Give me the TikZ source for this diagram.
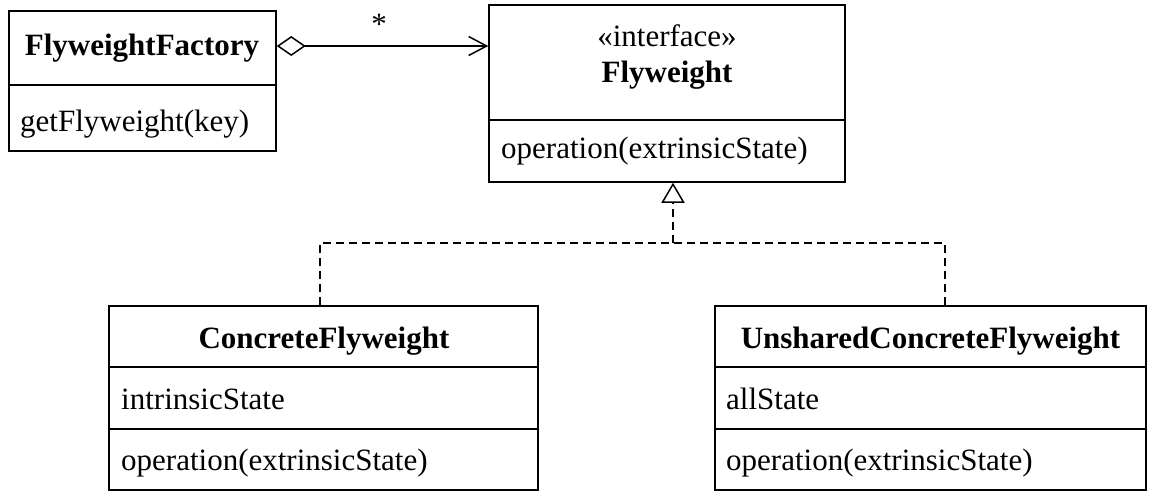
\documentclass[tikz,border=0pt]{standalone}
\usepackage{fontspec}
\setmainfont{Liberation Serif}
\usetikzlibrary{arrows.meta}
\begin{document}
\begin{tikzpicture}[x=1pt,y=-1pt,
  comp/.style={draw, line width=1.5pt, inner sep=0pt, minimum width=#1},
  txt/.style={inner sep=0pt, font=\fontsize{31pt}{37pt}\selectfont},
  ttl/.style={txt, anchor=base, font=\fontsize{31pt}{37pt}\selectfont\bfseries},
  lft/.style={txt, anchor=base west},
  link/.style={line width=1.5pt},
  realize/.style={link, dash pattern=on 8pt off 5pt}
]
\useasboundingbox (0,0) rectangle (1163,501);
% FlyweightFactory
\node[comp=267pt, minimum height=74pt] (factT) at (142.5,48) {};
\node[comp=267pt, minimum height=66pt] (factB) at (142.5,118) {};
\node[ttl] (factN) at (142,55) {FlyweightFactory};
\node[lft] (factM) at (20,131) {getFlyweight(key)};
% Flyweight
\node[comp=356pt, minimum height=115pt] (fwT) at (667,62.5) {};
\node[comp=356pt, minimum height=62pt] (fwB) at (667,151) {};
\node[txt, anchor=base] (fwS) at (667,46) {«interface»};
\node[ttl] (fwN) at (667,82) {Flyweight};
\node[lft] (fwM) at (501,158) {operation(extrinsicState)};
% ConcreteFlyweight
\node[comp=429pt, minimum height=61pt] (cfT) at (323.5,336.5) {};
\node[comp=429pt, minimum height=62pt] (cfA) at (323.5,398) {};
\node[comp=429pt, minimum height=61pt] (cfB) at (323.5,459.5) {};
\node[ttl] (cfN) at (324,348) {ConcreteFlyweight};
\node[lft] (cfF) at (121,409) {intrinsicState};
\node[lft] (cfM) at (121,470) {operation(extrinsicState)};
% UnsharedConcreteFlyweight
\node[comp=431pt, minimum height=61pt] (ucT) at (930.5,336.5) {};
\node[comp=431pt, minimum height=62pt] (ucA) at (930.5,398) {};
\node[comp=431pt, minimum height=61pt] (ucB) at (930.5,459.5) {};
\node[ttl] (ucN) at (930.5,348) {UnsharedConcreteFlyweight};
\node[lft] (ucF) at (726,409) {allState};
\node[lft] (ucM) at (726,470) {operation(extrinsicState)};
% aggregation
\coordinate (aggS) at ([yshift=2pt]factT.east);
\draw[link, {Diamond[open, length=29pt, width=20pt, line width=1.5pt]}-{Straight Barb[length=18pt, width=19pt, line width=1.5pt]}]
  (aggS) -- (aggS -| fwT.west);
\node[txt, anchor=base] (mult) at (379,34) {*};
% realization
\coordinate (join) at (673,243);
\draw[realize] ([xshift=-3.5pt]cfT.north) |- (join);
\draw[realize] ([xshift=14.5pt]ucT.north) |- (join);
\draw[realize, -{Triangle[open, length=20pt, width=23pt, line width=1.5pt]}] (join) -- (join |- fwB.south);
\end{tikzpicture}
\end{document}
